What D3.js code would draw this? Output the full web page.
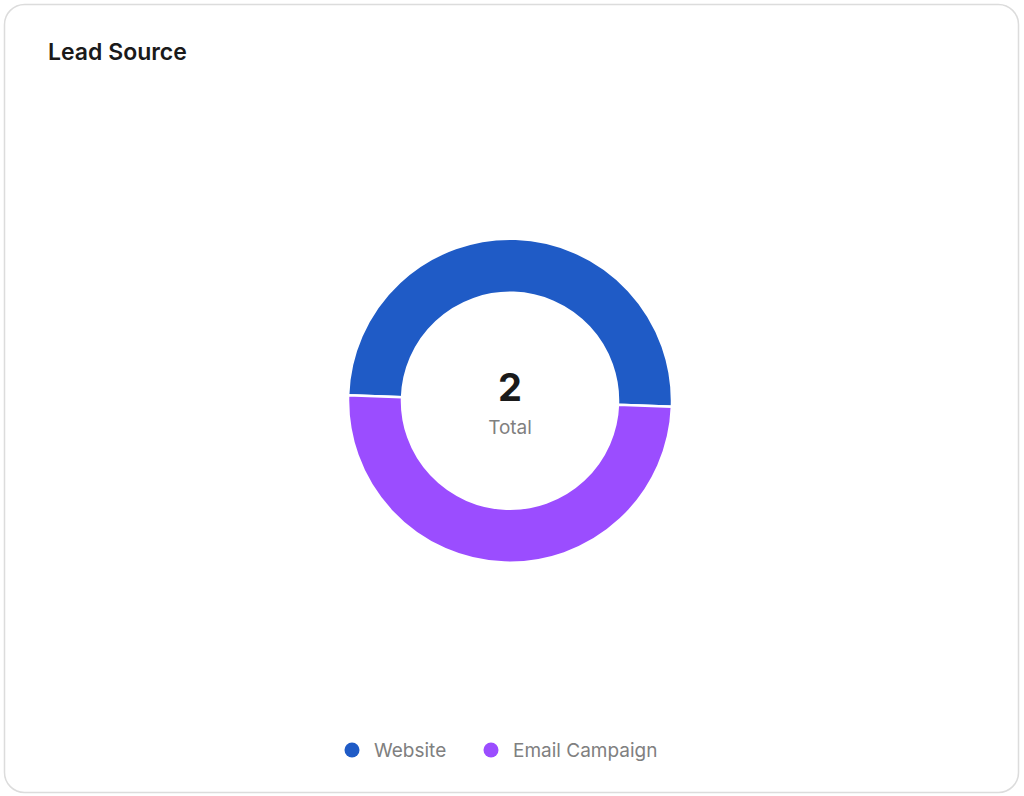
<!DOCTYPE html>
<html>
<head>
<script src="https://cdn.jsdelivr.net/npm/d3@7"></script>
<style>
  body { margin: 0; background: #fff; font-family: Inter, "Noto Sans", sans-serif; }
</style>
</head>
<body>
<script>
  const categories = ["Website", "Email Campaign"];
  const values = [1, 1];
  const colors = ["#1f5bc6", "#9b4dff"];

  const W = 1024, H = 796;
  const svg = d3.select("body").append("svg").attr("width", W).attr("height", H);

  svg.append("rect")
    .attr("x", 4.5).attr("y", 4.5).attr("width", 1014).attr("height", 788)
    .attr("rx", 20).attr("fill", "#fff").attr("stroke", "#dcdcdc").attr("stroke-width", 1.5);

  svg.append("text").attr("x", 48).attr("y", 60)
    .attr("font-size", 23).attr("font-weight", 600).attr("fill", "#1a1a1a")
    .text("Lead Source");

  const cx = 510, cy = 401;
  const g = svg.append("g").attr("transform", `translate(${cx},${cy})`);
  const start = -88 * Math.PI / 180;
  const pie = d3.pie().sort(null).startAngle(start).endAngle(start + 2 * Math.PI);
  const arc = d3.arc().innerRadius(108).outerRadius(162);

  g.selectAll("path").data(pie(values)).enter().append("path")
    .attr("d", arc)
    .attr("fill", (d, i) => colors[i])
    .attr("stroke", "#fff").attr("stroke-width", 2.5);

  g.append("text").attr("text-anchor", "middle").attr("y", 0)
    .attr("font-size", 38).attr("font-weight", 700).attr("fill", "#1a1a1a")
    .text(d3.sum(values));
  g.append("text").attr("text-anchor", "middle").attr("y", 33)
    .attr("font-size", 19).attr("fill", "#808080")
    .text("Total");

  const legendX = [352, 491];
  const lg = svg.append("g");
  categories.forEach((c, i) => {
    lg.append("circle").attr("cx", legendX[i]).attr("cy", 750).attr("r", 7.5).attr("fill", colors[i]);
    lg.append("text").attr("x", legendX[i] + 22).attr("y", 757)
      .attr("font-size", 19).attr("fill", "#808080").text(c);
  });
</script>
</body>
</html>
